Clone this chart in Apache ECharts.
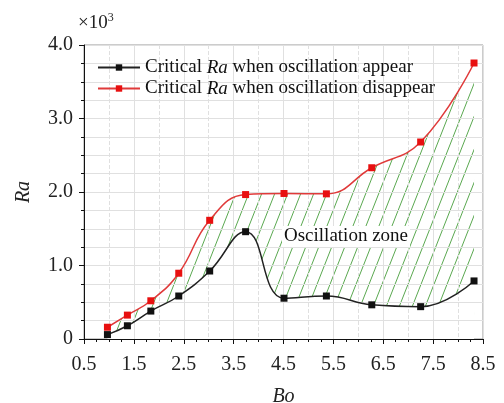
<!DOCTYPE html>
<html>
<head>
<meta charset="utf-8">
<script src="https://cdn.jsdelivr.net/npm/echarts@6/dist/echarts.min.js"></script>
<style>
  html, body { margin: 0; padding: 0; background: #fff; }
  #main { width: 504px; height: 403px; }
</style>
</head>
<body>
<div id="main"></div>
<script>
var chartDom = document.getElementById('main');
var myChart = echarts.init(chartDom);

const serif = "'Liberation Serif', 'Times New Roman', serif";

// data
const bo = [0.97, 1.37, 1.84, 2.4, 3.02, 3.74, 4.51, 5.36, 6.27, 7.25, 8.32];
const raAppear = [60, 180, 380, 585, 925, 1460, 555, 585, 465, 440, 790];
const raDisappear = [160, 325, 520, 895, 1615, 1965, 1980, 1975, 2330, 2680, 3755];
const nameAppear = 'Critical Ra when oscillation appear';
const nameDisappear = 'Critical Ra when oscillation disappear';

function pairs(ys) {
  return bo.map(function (x, i) { return [x, ys[i]]; });
}

// green hatch pattern for the zone between the curves
function hatch() {
  var w = 13, h = 33;
  var c = document.createElement('canvas');
  c.width = w;
  c.height = h;
  var ctx = c.getContext('2d');
  ctx.strokeStyle = '#5aa850';
  ctx.lineWidth = 1;
  ctx.beginPath();
  for (var k = -1; k <= 1; k++) {
    ctx.moveTo(k * w, h);
    ctx.lineTo(k * w + w, 0);
  }
  ctx.stroke();
  return c;
}

var smooth = 0.45;
var gridColor = '#e0e0e0';

var option = {
  animation: false,
  grid: {
    left: 84, right: 21, top: 45, bottom: 64, outerBoundsMode: 'none',
    show: true, borderColor: '#999', borderWidth: 1
  },
  legend: {
    orient: 'vertical',
    left: 92,
    top: 53,
    itemWidth: 42,
    itemHeight: 8,
    itemGap: 2,
    data: [nameAppear, nameDisappear],
    formatter: function (n) { return n.replace('Ra', '{i|Ra}'); },
    textStyle: {
      fontFamily: serif, fontSize: 19, color: '#111',
      rich: { i: { fontFamily: serif, fontSize: 19, fontStyle: 'italic', color: '#111' } }
    }
  },
  graphic: [
    {
      type: 'text', left: 78, top: 12,
      style: {
        text: '×10{s|3}',
        font: '19px ' + serif, fill: '#222',
        rich: { s: { fontSize: 12, fontFamily: serif, verticalAlign: 'top', padding: [0, 0, 10, 0] } }
      }
    },
    {
      type: 'text', left: 282, top: 226, z: 10,
      style: {
        text: 'Oscillation zone', font: '19px ' + serif, fill: '#111',
        backgroundColor: '#fff', padding: [1, 2]
      }
    }
  ],
  xAxis: [
    {
      type: 'value', min: 0.5, max: 8.5, interval: 1,
      name: 'Bo', nameLocation: 'middle', nameGap: 48,
      nameTextStyle: { fontFamily: serif, fontSize: 20, fontStyle: 'italic', color: '#222' },
      axisLine: { lineStyle: { color: '#111' } },
      axisTick: { inside: false, length: 5, lineStyle: { color: '#111' } },
      minorTick: { show: true, splitNumber: 4, length: 3, lineStyle: { color: '#111' } },
      axisLabel: { fontFamily: serif, fontSize: 20, color: '#222', margin: 16 },
      splitLine: { show: false },
      z: 6
    },
    {
      type: 'value', min: 0.5, max: 8.5, interval: 1, position: 'top',
      axisLine: { show: false }, axisTick: { show: false }, axisLabel: { show: false },
      splitLine: { show: true, lineStyle: { color: gridColor } },
      minorTick: { show: false, splitNumber: 2 },
      minorSplitLine: { show: true, lineStyle: { color: gridColor, type: 'dashed' } },
      z: 3
    }
  ],
  yAxis: {
    type: 'value', min: 0, max: 4000, interval: 1000,
    name: 'Ra', nameLocation: 'middle', nameGap: 50, nameRotate: 90,
    nameTextStyle: { fontFamily: serif, fontSize: 20, fontStyle: 'italic', color: '#222' },
    axisLine: { show: true, lineStyle: { color: '#111' } },
    axisTick: { show: true, inside: false, length: 5, lineStyle: { color: '#111' } },
    minorTick: { show: true, splitNumber: 4, length: 3, lineStyle: { color: '#111' } },
    axisLabel: {
      fontFamily: serif, fontSize: 20, color: '#222', margin: 11,
      formatter: function (v) { return v === 0 ? '0' : (v / 1000).toFixed(1); }
    },
    splitLine: { show: true, lineStyle: { color: gridColor } },
    minorSplitLine: { show: true, lineStyle: { color: gridColor } },
    z: 3
  },
  series: [
    {
      // hatch from the red curve down to the axis
      name: 'zone', type: 'line', data: pairs(raDisappear), smooth: smooth,
      symbol: 'none', lineStyle: { opacity: 0 }, silent: true, z: 1,
      areaStyle: { color: { image: hatch(), repeat: 'repeat' }, opacity: 1, origin: 'start' }
    },
    {
      // blank out the part below the black curve
      name: 'mask', type: 'line', data: pairs(raAppear), smooth: smooth,
      symbol: 'none', lineStyle: { opacity: 0 }, silent: true, z: 2,
      areaStyle: { color: '#fff', opacity: 1, origin: 'start' }
    },
    {
      name: nameAppear, type: 'line', data: pairs(raAppear), smooth: smooth,
      symbol: 'rect', symbolSize: 7, z: 5,
      lineStyle: { color: '#222', width: 1.5 },
      itemStyle: { color: '#111' }
    },
    {
      name: nameDisappear, type: 'line', data: pairs(raDisappear), smooth: smooth,
      symbol: 'rect', symbolSize: 7, z: 5,
      lineStyle: { color: '#e03a3a', width: 1.5 },
      itemStyle: { color: '#e81010' }
    }
  ]
};

myChart.setOption(option);
</script>
</body>
</html>
